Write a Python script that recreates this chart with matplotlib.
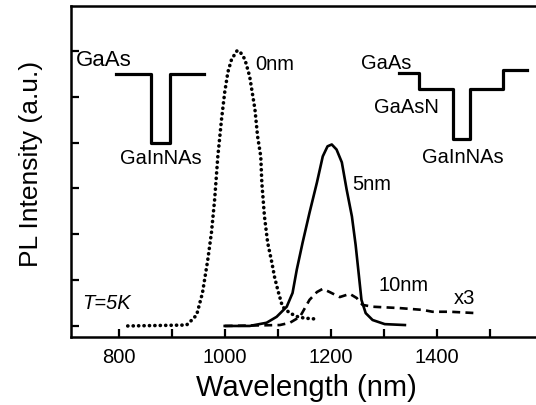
import numpy as np
import matplotlib
matplotlib.use('Agg')
import matplotlib.pyplot as plt

plt.rcParams['font.family'] = ['Liberation Sans', 'DejaVu Sans']

# 0nm well (dotted)
wl_0 = [817, 928, 938, 947, 958, 968, 975, 981, 987, 994, 1000, 1006, 1013, 1023,
        1028, 1038, 1047, 1057, 1062, 1068, 1070, 1075, 1081, 1089, 1094, 1100,
        1109, 1123, 1138, 1151, 1174]
pl_0 = [0.0, 0.02, 0.13, 0.24, 0.72, 1.44, 2.04, 2.76, 3.70, 4.51, 5.10, 5.54, 5.82, 6.0,
        6.0, 5.82, 5.45, 4.73, 4.14, 3.70, 3.13, 2.39, 1.82, 1.38, 1.07, 0.79,
        0.42, 0.28, 0.20, 0.17, 0.15]

# 5nm (solid)
wl_5 = [1000, 1047, 1079, 1098, 1117, 1128, 1136, 1147, 1160, 1174, 1185, 1194, 1202,
        1211, 1221, 1230, 1240, 1247, 1253, 1258, 1266, 1279, 1302, 1340]
pl_5 = [0.0, 0.0, 0.07, 0.20, 0.42, 0.72, 1.23, 1.82, 2.47, 3.13, 3.70, 3.92, 3.96,
        3.85, 3.57, 2.98, 2.39, 1.77, 1.12, 0.57, 0.28, 0.13, 0.04, 0.02]

# 10nm x3 (dashed)
wl_10 = [1000, 1104, 1123, 1142, 1160, 1174, 1185, 1198, 1217, 1236, 1249, 1260,
         1279, 1330, 1374, 1392, 1425, 1475]
pl_10 = [0.0, 0.02, 0.07, 0.20, 0.57, 0.74, 0.81, 0.74, 0.63, 0.70, 0.61, 0.46,
         0.42, 0.39, 0.35, 0.31, 0.31, 0.28]

# band diagrams (insets)
well_l_x = [794, 860, 860, 896, 896, 960]
well_l_y = [5.5, 5.5, 4.0, 4.0, 5.5, 5.5]
well_r_x = [1328, 1366, 1366, 1430, 1430, 1462, 1462, 1525, 1525, 1570]
well_r_y = [5.51, 5.51, 5.16, 5.16, 4.07, 4.07, 5.16, 5.16, 5.58, 5.58]

fig = plt.figure(figsize=(5.36, 4.05), dpi=100)
ax = fig.add_axes([0.1325, 0.168, 0.880, 0.817])

ax.plot(wl_0, pl_0, color='black', lw=2.6, linestyle=(0, (0.05, 1.45)),
        dash_capstyle='round')
ax.plot(wl_5, pl_5, color='black', lw=1.9)
ax.plot(wl_10, pl_10, color='black', lw=1.9, linestyle=(0, (3.0, 2.0)))

ax.plot(well_l_x, well_l_y, color='black', lw=2.3)
ax.plot(well_r_x, well_r_y, color='black', lw=2.3)

fs = 14.5
ax.text(719, 5.80, 'GaAs', fontsize=16, va='center')
ax.text(802, 3.65, 'GaInNAs', fontsize=fs, va='center')
ax.text(1057, 5.71, '0nm', fontsize=fs, va='center')
ax.text(1240, 3.09, '5nm', fontsize=fs, va='center')
ax.text(1291, 0.875, '10nm', fontsize=fs, va='center')
ax.text(1432, 0.59, 'x3', fontsize=fs, va='center')
ax.text(732, 0.48, 'T=5K', fontsize=fs, va='center', style='italic')
ax.text(1257, 5.73, 'GaAs', fontsize=fs, va='center')
ax.text(1281, 4.77, 'GaAsN', fontsize=fs, va='center')
ax.text(1372, 3.68, 'GaInNAs', fontsize=fs, va='center')

ax.set_xlim(710, 1600)
ax.set_ylim(-0.24, 6.98)
ax.set_xticks([800, 1000, 1200, 1400])
ax.set_xticks([900, 1100, 1300, 1500], minor=True)
ax.set_yticks(range(7))
ax.set_yticklabels([])
ax.tick_params(which='both', direction='in', length=6, width=1.6,
               labelsize=14.5, pad=8)
for s in ax.spines.values():
    s.set_linewidth(1.8)

ax.set_xlabel('Wavelength (nm)', fontsize=21, labelpad=5)
ax.set_ylabel('PL Intensity (a.u.)', fontsize=19, labelpad=12, y=0.523)

fig.savefig('out.png', dpi=100)
